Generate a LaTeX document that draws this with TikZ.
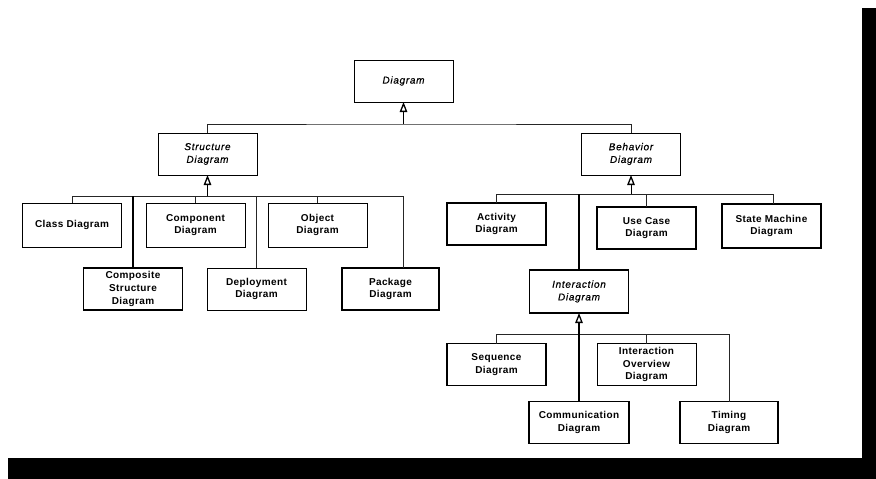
\documentclass[tikz,border=0pt]{standalone}
\usepackage{fontspec}
\setmainfont{Liberation Sans}
\newfontfamily\upfont[LetterSpace=4]{Liberation Sans Bold}
\newfontfamily\absfont[LetterSpace=7, FakeBold=0.5]{Liberation Sans Italic}
\usetikzlibrary{arrows.meta}
\begin{document}
\begin{tikzpicture}[x=1pt,y=-1pt,
  cls/.style={draw, line width=0.9pt, rectangle, inner sep=0pt, outer sep=0pt,
    minimum width=99pt, minimum height=42pt, align=center,
    font=\upfont\fontsize{10}{12.7}\selectfont},
  heavy/.style={line width=1.8pt},
  abstract/.style={font=\absfont\fontsize{10}{12.7}\selectfont},
  link/.style={line width=0.9pt, draw=black!85},
  thicklink/.style={line width=2pt},
  gen/.style={line width=0.9pt, -{Triangle[open, length=10pt, width=7.5pt, line width=1.3pt]}}
]
% page with drop shadow
\fill[black] (8,8) rectangle (876,479);
\fill[white] (0,0) rectangle (862,458);
\useasboundingbox (0,0) rectangle (876,479);

% top level
\node[cls, abstract] (diag) at (403.5,81) {Diagram};
\node[cls, abstract] (struct) at (207.5,154) {Structure\\Diagram};
\node[cls, abstract] (behav) at (631,154) {Behavior\\Diagram};

% structure diagrams
\node[cls, minimum height=44pt] (class) at (72,225) {Class Diagram};
\node[cls, minimum height=44pt] (comp) at (195.5,225) {Component\\Diagram};
\node[cls, minimum height=44pt] (object) at (317.5,225) {Object\\Diagram};
\node[cls, heavy] (compst) at (133,289) {Composite\\Structure\\Diagram};
\node[cls] (deploy) at (256.5,289) {Deployment\\Diagram};
\node[cls, heavy, minimum width=97pt] (package) at (390.5,289) {Package\\Diagram};

% behavior diagrams
\node[cls, heavy] (activity) at (496.5,224) {Activity\\Diagram};
\node[cls, heavy] (usecase) at (646.5,228) {Use Case\\Diagram};
\node[cls, heavy, minimum height=44pt] (state) at (771.5,226) {State Machine\\Diagram};
\node[cls, heavy, abstract, minimum height=43pt] (inter) at (579,291.5) {Interaction\\Diagram};

% interaction diagrams
\node[cls, heavy] (seq) at (496.5,364.5) {Sequence\\Diagram};
\node[cls] (iover) at (646.5,364.5) {Interaction\\Overview\\Diagram};
\node[cls, heavy, minimum width=100pt] (comm) at (579,422.5) {Communication\\Diagram};
\node[cls, heavy, minimum width=98pt] (timing) at (729,422.5) {Timing\\Diagram};

% junction points of the generalization trees
\coordinate (j0) at (403.5,124);
\coordinate (j1) at (207.5,196);
\coordinate (j2) at (631,194);
\coordinate (j3) at (579,334);

% Diagram
\draw[link] (struct.north) |- (j0) -| (behav.north);
\draw[gen] (j0) -- (diag.south);

% Structure Diagram
\draw[link] (class.north) |- (j1);
\draw[link] (comp.north) |- (j1);
\draw[link] (deploy.north) |- (j1);
\draw[link] (object.north) |- (j1);
\draw[link] ([xshift=12.5pt]package.north) |- (j1);
\draw[thicklink] (compst.north) -- (compst.north |- j1);
\draw[gen] (j1) -- (struct.south);

% Behavior Diagram
\draw[link] (activity.north) |- (j2);
\draw[link] (usecase.north) |- (j2);
\draw[link] ([xshift=1.5pt]state.north) |- (j2);
\draw[thicklink] (inter.north) -- (inter.north |- j2);
\draw[gen] (j2) -- (behav.south);

% Interaction Diagram
\draw[link] (seq.north) |- (j3);
\draw[link] (iover.north) |- (j3);
\draw[link] (timing.north) |- (j3);
\draw[thicklink] (comm.north) -- (j3);
\draw[gen, line width=2pt] (j3) -- (inter.south);
\end{tikzpicture}
\end{document}
